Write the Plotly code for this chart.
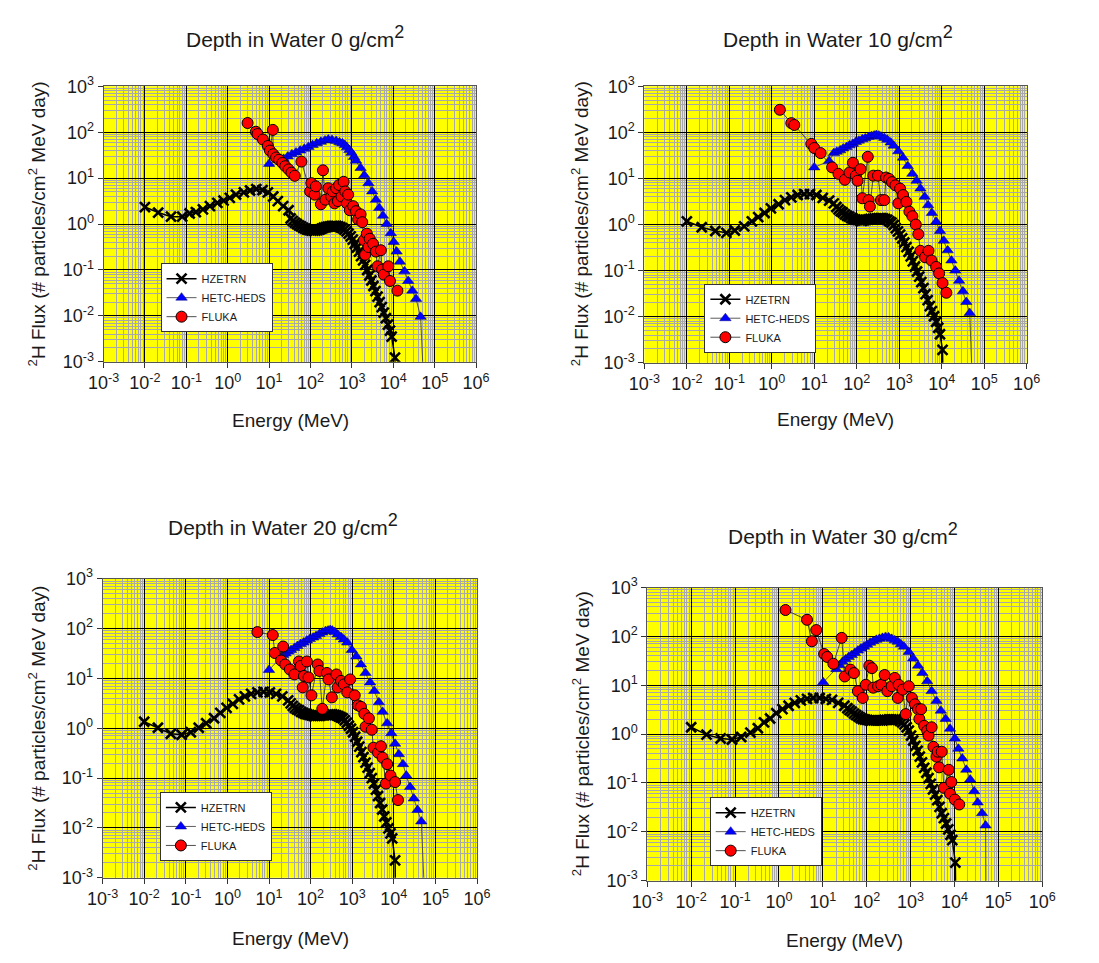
import numpy as np
import plotly.graph_objects as go

W, H = 1099, 963
FONT = "Arial, Liberation Sans, Helvetica, sans-serif"

# ---------------- tick labels ----------------
X_TICK_VALUES = [1e-3, 1e-2, 1e-1, 1e0, 1e1, 1e2, 1e3, 1e4, 1e5, 1e6]
X_TICK_LABELS = ["10<sup>-3</sup>", "10<sup>-2</sup>", "10<sup>-1</sup>", "10<sup>0</sup>",
                 "10<sup>1</sup>", "10<sup>2</sup>", "10<sup>3</sup>", "10<sup>4</sup>",
                 "10<sup>5</sup>", "10<sup>6</sup>"]
Y_TICK_VALUES = [1e-3, 1e-2, 1e-1, 1e0, 1e1, 1e2, 1e3]
Y_TICK_LABELS = ["10<sup>-3</sup>", "10<sup>-2</sup>", "10<sup>-1</sup>", "10<sup>0</sup>",
                 "10<sup>1</sup>", "10<sup>2</sup>", "10<sup>3</sup>"]

DEPTHS = [0, 10, 20, 30]
SERIES = ["HZETRN", "HETC-HEDS", "FLUKA"]

# ---------------- data: values, stored as log10 ----------------
# Depth 0
HZ0_LOGE = [-2.00, -1.68, -1.37, -1.10, -0.92, -0.77, -0.60, -0.43, -0.25, -0.10, 0.05, 0.20, 0.39, 0.54,
            0.69, 0.84, 0.97, 1.10, 1.21, 1.34, 1.47,
            1.52, 1.57, 1.62, 1.67, 1.72, 1.77, 1.82, 1.87, 1.92, 1.97, 2.02, 2.07, 2.12, 2.17, 2.22, 2.27,
            2.32, 2.37, 2.42, 2.47, 2.52, 2.57, 2.62, 2.67, 2.72, 2.77, 2.82, 2.87, 2.92, 2.97, 3.02, 3.07,
            3.12, 3.17, 3.22, 3.27, 3.32, 3.37, 3.42, 3.47, 3.52, 3.57, 3.62, 3.67, 3.72, 3.77, 3.82, 3.87,
            3.92, 3.96, 4.04, 4.05]
HZ0_LOGF = [0.37, 0.25, 0.16, 0.16, 0.23, 0.26, 0.32, 0.39, 0.46, 0.51, 0.57, 0.64, 0.69, 0.73,
            0.76, 0.74, 0.69, 0.60, 0.50, 0.39, 0.30,
            0.12, 0.07, 0.03, 0.00, -0.03, -0.05, -0.08, -0.10, -0.12, -0.13, -0.14, -0.14, -0.14, -0.13,
            -0.12, -0.10, -0.08, -0.07, -0.06, -0.05, -0.04, -0.04, -0.04, -0.05, -0.07, -0.09, -0.12, -0.16,
            -0.21, -0.27, -0.34, -0.43, -0.51, -0.60, -0.70, -0.79, -0.89, -1.00, -1.12, -1.23, -1.35, -1.46,
            -1.58, -1.70, -1.81, -1.93, -2.05, -2.19, -2.32, -2.45, -2.91, -3.40]
HE0_LOGE = [1.00, 1.35, 1.45, 1.55, 1.65, 1.75, 1.85, 1.95, 2.05, 2.15, 2.25, 2.35, 2.43, 2.52, 2.62, 2.70,
            2.77, 2.83, 2.88, 2.94, 2.99, 3.05, 3.10, 3.21, 3.30, 3.40, 3.49, 3.58, 3.66, 3.75, 3.84, 3.94,
            4.01, 4.08, 4.16, 4.27, 4.36, 4.46, 4.55, 4.66, 4.73]
HE0_LOGF = [1.31, 1.42, 1.47, 1.52, 1.56, 1.60, 1.64, 1.68, 1.72, 1.76, 1.79, 1.82, 1.84, 1.83, 1.81, 1.78,
            1.76, 1.72, 1.67, 1.61, 1.55, 1.46, 1.38, 1.22, 1.06, 0.89, 0.71, 0.53, 0.35, 0.18, 0.00, -0.20,
            -0.39, -0.60, -0.82, -1.03, -1.24, -1.45, -1.63, -2.02, -3.40]
FL0_LOGE = [0.48, 0.68, 0.72, 0.85, 0.97, 1.02, 1.09, 1.10, 1.17, 1.24, 1.32, 1.39, 1.47, 1.54, 1.62, 1.78,
            1.99, 2.02, 2.10, 2.13, 2.25, 2.30, 2.36, 2.43, 2.50, 2.54, 2.58, 2.62, 2.66, 2.69, 2.75, 2.80,
            2.84, 2.88, 2.91, 2.95, 3.03, 3.10, 3.15, 3.21, 3.25, 3.29, 3.32, 3.36, 3.40, 3.43, 3.51, 3.58,
            3.62, 3.70, 3.73, 3.77, 3.88, 3.92, 4.10]
FL0_LOGF = [2.20, 2.01, 1.96, 1.84, 1.70, 1.60, 2.05, 1.52, 1.45, 1.40, 1.33, 1.26, 1.19, 1.12, 1.05, 1.36,
            0.71, 0.89, 0.64, 0.82, 0.43, 1.17, 0.53, 0.78, 0.60, 0.71, 0.45, 0.78, 0.50, 0.85, 0.60, 0.92,
            0.71, 0.45, 0.64, 0.30, 0.39, 0.28, 0.10, 0.21, 0.04, -0.35, -0.67, -0.21, -0.50, -0.32, -0.43,
            -0.60, -0.92, -0.57, -0.99, -1.10, -0.92, -1.24, -1.45]

# Depth 10
HZ1_LOGE = [-2.00, -1.65, -1.33, -1.07, -0.87, -0.65, -0.47, -0.32, -0.17, -0.02, 0.16, 0.31, 0.46, 0.61,
            0.76, 0.90, 1.05, 1.20, 1.35, 1.46,
            1.52, 1.57, 1.62, 1.67, 1.72, 1.77, 1.82, 1.87, 1.92, 1.97, 2.02, 2.07, 2.12, 2.17, 2.22, 2.27,
            2.32, 2.37, 2.42, 2.47, 2.52, 2.57, 2.62, 2.67, 2.72, 2.77, 2.82, 2.87, 2.92, 2.97, 3.02, 3.07,
            3.12, 3.17, 3.22, 3.27, 3.32, 3.37, 3.42, 3.47, 3.52, 3.57, 3.62, 3.67, 3.72, 3.77, 3.82, 3.87,
            3.92, 3.96, 4.02, 4.03]
HZ1_LOGF = [0.07, -0.06, -0.14, -0.18, -0.13, -0.04, 0.07, 0.16, 0.25, 0.35, 0.44, 0.53, 0.59, 0.64,
            0.66, 0.66, 0.64, 0.58, 0.52, 0.46,
            0.38, 0.33, 0.29, 0.26, 0.22, 0.19, 0.17, 0.14, 0.12, 0.11, 0.10, 0.09, 0.08, 0.09, 0.10, 0.11,
            0.12, 0.12, 0.13, 0.13, 0.14, 0.14, 0.13, 0.12, 0.10, 0.07, 0.04, -0.01, -0.08, -0.15, -0.22,
            -0.30, -0.39, -0.49, -0.59, -0.69, -0.80, -0.91, -1.02, -1.13, -1.25, -1.38, -1.51, -1.64, -1.77,
            -1.88, -1.99, -2.11, -2.24, -2.38, -2.72, -3.40]
HE1_LOGE = [1.00, 1.35, 1.46, 1.53, 1.61, 1.68, 1.76, 1.83, 1.91, 1.98, 2.05, 2.13, 2.20, 2.28, 2.35, 2.41,
            2.46, 2.52, 2.57, 2.65, 2.72, 2.80, 2.87, 2.98, 3.09, 3.20, 3.31, 3.41, 3.50, 3.60, 3.68, 3.77,
            3.87, 3.96, 4.05, 4.14, 4.23, 4.32, 4.41, 4.50, 4.58, 4.66, 4.72]
HE1_LOGF = [1.24, 1.38, 1.55, 1.58, 1.61, 1.65, 1.68, 1.72, 1.75, 1.79, 1.82, 1.85, 1.87, 1.90, 1.92, 1.93,
            1.94, 1.93, 1.91, 1.88, 1.84, 1.78, 1.71, 1.59, 1.45, 1.27, 1.10, 0.95, 0.78, 0.60, 0.42, 0.25,
            0.06, -0.14, -0.35, -0.56, -0.78, -1.00, -1.22, -1.45, -1.68, -1.92, -3.40]
FL1_LOGE = [0.19, 0.46, 0.53, 0.93, 1.00, 1.15, 1.42, 1.57, 1.72, 1.83, 1.91, 1.98, 2.02, 2.09, 2.13, 2.26,
            2.28, 2.31, 2.39, 2.50, 2.57, 2.65, 2.69, 2.76, 2.83, 2.91, 2.98, 3.02, 3.09, 3.17, 3.24, 3.31,
            3.39, 3.45, 3.50, 3.61, 3.69, 3.76, 3.87, 3.94, 4.02, 4.11]
FL1_LOGF = [2.49, 2.20, 2.16, 1.75, 1.66, 1.55, 1.24, 1.10, 0.97, 1.13, 1.34, 1.06, 0.95, 1.20, 0.57, 1.47,
            0.53, 0.39, 1.06, 1.06, 0.53, 0.53, 1.02, 0.99, 0.92, 0.85, 0.46, 0.78, 0.64, 0.49, 0.28, 0.18,
            0.00, -0.21, -0.57, -0.71, -0.57, -0.78, -0.92, -1.06, -1.27, -1.48]

# Depth 20
HZ2_LOGE = [-2.00, -1.67, -1.36, -1.10, -0.88, -0.69, -0.51, -0.32, -0.17, -0.02, 0.13, 0.28, 0.42, 0.57,
            0.72, 0.87, 1.02, 1.17, 1.32, 1.46,
            1.52, 1.57, 1.62, 1.67, 1.72, 1.77, 1.82, 1.87, 1.92, 1.97, 2.02, 2.07, 2.12, 2.17, 2.22, 2.27,
            2.32, 2.37, 2.42, 2.47, 2.52, 2.57, 2.62, 2.67, 2.72, 2.77, 2.82, 2.87, 2.92, 2.97, 3.02, 3.07,
            3.12, 3.17, 3.22, 3.27, 3.32, 3.37, 3.42, 3.47, 3.52, 3.57, 3.62, 3.67, 3.72, 3.77, 3.82, 3.87,
            3.92, 3.96, 4.03, 4.04]
HZ2_LOGF = [0.13, 0.01, -0.11, -0.13, -0.08, 0.01, 0.10, 0.20, 0.31, 0.41, 0.49, 0.58, 0.64, 0.69,
            0.72, 0.73, 0.72, 0.69, 0.64, 0.56,
            0.50, 0.45, 0.41, 0.38, 0.36, 0.33, 0.31, 0.29, 0.28, 0.27, 0.26, 0.25, 0.25, 0.25, 0.25, 0.26,
            0.26, 0.27, 0.28, 0.28, 0.28, 0.27, 0.26, 0.24, 0.22, 0.20, 0.16, 0.11, 0.05, -0.01, -0.08,
            -0.17, -0.27, -0.37, -0.48, -0.58, -0.69, -0.79, -0.90, -1.00, -1.11, -1.23, -1.36, -1.50,
            -1.63, -1.77, -1.89, -2.01, -2.11, -2.21, -2.65, -3.40]
HE2_LOGE = [1.00, 1.34, 1.40, 1.46, 1.53, 1.61, 1.68, 1.76, 1.83, 1.91, 1.98, 2.06, 2.13, 2.21, 2.28, 2.36,
            2.42, 2.47, 2.52, 2.58, 2.65, 2.73, 2.80, 2.88, 2.99, 3.10, 3.21, 3.32, 3.43, 3.53, 3.64, 3.73,
            3.84, 3.94, 4.03, 4.12, 4.22, 4.30, 4.39, 4.48, 4.57, 4.66, 4.74]
HE2_LOGF = [1.17, 1.47, 1.50, 1.54, 1.57, 1.61, 1.65, 1.69, 1.72, 1.76, 1.79, 1.82, 1.85, 1.89, 1.92, 1.95,
            1.96, 1.97, 1.96, 1.93, 1.88, 1.83, 1.78, 1.72, 1.57, 1.44, 1.28, 1.11, 0.92, 0.75, 0.52, 0.33,
            0.10, -0.10, -0.31, -0.52, -0.72, -0.95, -1.18, -1.41, -1.64, -1.87, -3.40]
FL2_LOGE = [0.72, 1.09, 1.14, 1.29, 1.34, 1.39, 1.50, 1.61, 1.72, 1.76, 1.81, 1.84, 1.91, 1.95, 2.02, 2.17,
            2.21, 2.28, 2.39, 2.43, 2.51, 2.62, 2.65, 2.73, 2.80, 2.88, 2.95, 3.06, 3.14, 3.21, 3.29, 3.32,
            3.40, 3.47, 3.51, 3.62, 3.69, 3.73, 3.81, 3.84, 3.92, 4.03, 4.10]
FL2_LOGF = [1.93, 1.87, 1.51, 1.36, 1.64, 1.28, 1.18, 1.08, 1.34, 1.25, 0.82, 1.05, 1.34, 1.02, 0.66, 1.28,
            1.15, 0.39, 1.11, 0.98, 0.62, 1.08, 0.82, 0.95, 0.88, 0.72, 0.98, 0.66, 0.46, 0.43, 0.29, 0.03,
            0.20, -0.03, -0.39, -0.49, -0.36, -0.59, -1.11, -0.72, -0.95, -1.08, -1.44]

# Depth 30
HZ3_LOGE = [-2.00, -1.65, -1.33, -1.07, -0.86, -0.65, -0.48, -0.34, -0.20, -0.06, 0.08, 0.22, 0.36, 0.50,
            0.64, 0.78, 0.93, 1.07, 1.21, 1.35, 1.49,
            1.56, 1.61, 1.66, 1.71, 1.76, 1.81, 1.86, 1.91, 1.96, 2.01, 2.06, 2.11, 2.16, 2.21, 2.26, 2.31,
            2.36, 2.41, 2.46, 2.51, 2.56, 2.61, 2.66, 2.71, 2.76, 2.81, 2.86, 2.91, 2.96, 3.01, 3.06, 3.11,
            3.16, 3.21, 3.26, 3.31, 3.36, 3.41, 3.46, 3.51, 3.56, 3.61, 3.66, 3.71, 3.76, 3.81, 3.86, 3.91,
            3.95, 4.02, 4.03]
HZ3_LOGF = [0.14, -0.01, -0.09, -0.11, -0.06, 0.03, 0.12, 0.24, 0.32, 0.43, 0.51, 0.58, 0.64, 0.69,
            0.72, 0.74, 0.74, 0.72, 0.70, 0.64, 0.58,
            0.53, 0.49, 0.46, 0.42, 0.39, 0.36, 0.33, 0.31, 0.30, 0.29, 0.28, 0.28, 0.28, 0.28, 0.28, 0.28,
            0.28, 0.29, 0.29, 0.30, 0.30, 0.30, 0.30, 0.29, 0.27, 0.24, 0.20, 0.14, 0.07, -0.03, -0.13,
            -0.24, -0.34, -0.46, -0.58, -0.69, -0.79, -0.90, -1.02, -1.13, -1.24, -1.35, -1.49, -1.62,
            -1.72, -1.83, -1.95, -2.06, -2.17, -2.63, -3.40]
HE3_LOGE = [1.01, 1.31, 1.38, 1.45, 1.52, 1.59, 1.66, 1.73, 1.80, 1.87, 1.94, 2.01, 2.08, 2.15, 2.22, 2.29,
            2.36, 2.43, 2.50, 2.57, 2.64, 2.71, 2.78, 2.85, 2.96, 3.06, 3.17, 3.27, 3.38, 3.48, 3.59, 3.69,
            3.80, 3.90, 4.01, 4.09, 4.18, 4.27, 4.36, 4.45, 4.53, 4.63, 4.71, 4.72]
HE3_LOGF = [1.06, 1.33, 1.41, 1.48, 1.53, 1.58, 1.62, 1.66, 1.71, 1.75, 1.79, 1.83, 1.87, 1.90, 1.93, 1.95,
            1.97, 1.99, 1.98, 1.95, 1.92, 1.89, 1.84, 1.79, 1.68, 1.55, 1.40, 1.25, 1.08, 0.88, 0.68, 0.48,
            0.31, 0.11, -0.09, -0.30, -0.50, -0.73, -0.93, -1.17, -1.40, -1.62, -1.87, -3.40]
FL3_LOGE = [0.15, 0.64, 0.75, 0.85, 1.03, 1.10, 1.24, 1.43, 1.50, 1.63, 1.71, 1.80, 1.91, 1.98, 2.06, 2.12,
            2.15, 2.26, 2.33, 2.41, 2.47, 2.57, 2.64, 2.71, 2.73, 2.82, 2.89, 2.96, 3.03, 3.10, 3.17, 3.20,
            3.24, 3.31, 3.38, 3.41, 3.48, 3.52, 3.59, 3.62, 3.65, 3.71, 3.76, 3.87, 3.90, 3.93, 4.01, 4.11]
FL3_LOGF = [2.54, 2.34, 1.90, 2.13, 1.64, 1.58, 1.44, 1.97, 1.18, 1.32, 1.25, 0.88, 0.74, 1.01, 1.40, 1.35,
            0.95, 0.98, 1.01, 1.21, 0.88, 0.98, 1.15, 0.74, 1.01, 0.91, 0.41, 0.98, 0.74, 0.61, 0.51, 0.31,
            0.51, 0.17, 0.07, -0.03, 0.14, -0.26, -0.46, -0.36, -0.68, -0.36, -1.10, -0.73, -1.22, -0.98,
            -1.34, -1.44]

DATA = [
    [(HZ0_LOGE, HZ0_LOGF), (HE0_LOGE, HE0_LOGF), (FL0_LOGE, FL0_LOGF)],
    [(HZ1_LOGE, HZ1_LOGF), (HE1_LOGE, HE1_LOGF), (FL1_LOGE, FL1_LOGF)],
    [(HZ2_LOGE, HZ2_LOGF), (HE2_LOGE, HE2_LOGF), (FL2_LOGE, FL2_LOGF)],
    [(HZ3_LOGE, HZ3_LOGF), (HE3_LOGE, HE3_LOGF), (FL3_LOGE, FL3_LOGF)],
]

# ---------------- layout geometry (pixels) ----------------
PANELS = [  # x0, x1, y_top, y_bottom
    (90, 473, 76, 358),
    (646, 1039, 76, 359),
    (89, 474, 580, 886),
    (649, 1055, 589, 889),
]
TITLE_POS = [(287, 25), (845, 25), (274, 524), (850, 534)]
XTITLE_POS = [(282, 418), (843, 417), (282, 948), (852, 950)]
YTITLE_POS = [(22, 217), (580, 217), (22, 733), (581, 739)]
# legend box inside plot, as fraction of plot (left, top)
LEGEND_FRAC = [(0.153, 0.358), (0.157, 0.286), (0.153, 0.287), (0.158, 0.285)]

STYLES = [
    dict(mode="lines+markers", line=dict(color="black", width=1.5),
         marker=dict(symbol="x-thin", size=10, color="black", line=dict(color="black", width=2.6))),
    dict(mode="lines+markers", line=dict(color="#333333", width=0.8),
         marker=dict(symbol="triangle-up", size=10, color="#0000FF", line=dict(color="#00007a", width=0.5))),
    dict(mode="lines+markers", line=dict(color="#222222", width=0.8),
         marker=dict(symbol="circle", size=11, color="#FF0000", line=dict(color="black", width=1))),
]


def px2fx(px):
    return px / W


def py2fy(py):
    return 1 - py / H


fig = go.Figure()
layout = dict(
    width=W, height=H, margin=dict(l=0, r=0, t=0, b=0),
    paper_bgcolor="white", plot_bgcolor="#FFFF00",
    font=dict(family=FONT, color="#1a1a1a"),
    showlegend=True,
    annotations=[],
)

for i in range(4):
    sfx = "" if i == 0 else str(i + 1)
    x0, x1, yt, yb = PANELS[i]
    dom_x = [px2fx(x0), px2fx(x1)]
    dom_y = [py2fy(yb), py2fy(yt)]
    leg = "legend" + sfx
    for j in range(3):
        le, lf = DATA[i][j]
        fig.add_trace(go.Scatter(
            x=np.power(10.0, le), y=np.power(10.0, lf), name=SERIES[j],
            xaxis="x" + sfx, yaxis="y" + sfx, legend=leg, cliponaxis=True,
            **STYLES[j]))
    axis_common = dict(
        type="log", showline=True, linecolor="#555555", linewidth=1, mirror=True,
        showgrid=True, gridcolor="#000000", gridwidth=1,
        ticks="outside", ticklen=5, tickcolor="#333333", tickwidth=1,
        tickfont=dict(family=FONT, size=18, color="#1a1a1a"),
        minor=dict(dtick="D1", showgrid=True, gridcolor="#a8a8a8", gridwidth=1, ticks=""),
        layer="below traces", fixedrange=True,
    )
    layout["xaxis" + sfx] = dict(axis_common, domain=dom_x, anchor="y" + sfx, range=[-3, 6],
                                 tickmode="array", tickvals=X_TICK_VALUES, ticktext=X_TICK_LABELS)
    layout["yaxis" + sfx] = dict(axis_common, domain=dom_y, anchor="x" + sfx, range=[-3, 3],
                                 tickmode="array", tickvals=Y_TICK_VALUES, ticktext=Y_TICK_LABELS)
    lfx, lfy = LEGEND_FRAC[i]
    layout[leg] = dict(
        x=dom_x[0] + lfx * (dom_x[1] - dom_x[0]),
        y=dom_y[0] + lfy * (dom_y[1] - dom_y[0]),
        xanchor="left", yanchor="top", bgcolor="white",
        bordercolor="#333333", borderwidth=1,
        font=dict(family=FONT, size=11, color="#1a1a1a"),
        tracegroupgap=0,
    )
    tx, ty = TITLE_POS[i]
    layout["annotations"].append(dict(
        text="Depth in Water %d g/cm<sup><span style='font-size:18px'>2</span></sup>" % DEPTHS[i],
        x=px2fx(tx), y=py2fy(ty), xref="paper", yref="paper",
        xanchor="center", yanchor="middle", showarrow=False,
        font=dict(family=FONT, size=21, color="#1a1a1a")))
    ax_, ay_ = XTITLE_POS[i]
    layout["annotations"].append(dict(
        text="Energy (MeV)", x=px2fx(ax_), y=py2fy(ay_), xref="paper", yref="paper",
        xanchor="center", yanchor="middle", showarrow=False,
        font=dict(family=FONT, size=19, color="#1a1a1a")))
    yx_, yy_ = YTITLE_POS[i]
    layout["annotations"].append(dict(
        text="<sup>2</sup>H Flux (# particles/cm<sup>2</sup> MeV day)",
        x=px2fx(yx_), y=py2fy(yy_), xref="paper", yref="paper", textangle=-90,
        xanchor="center", yanchor="middle", showarrow=False,
        font=dict(family=FONT, size=19, color="#1a1a1a")))

fig.update_layout(**layout)
fig.write_html(
    "out.html",
    post_script="document.body.style.margin='0px';document.body.style.padding='0px';"
                "document.documentElement.style.margin='0px';",
)
